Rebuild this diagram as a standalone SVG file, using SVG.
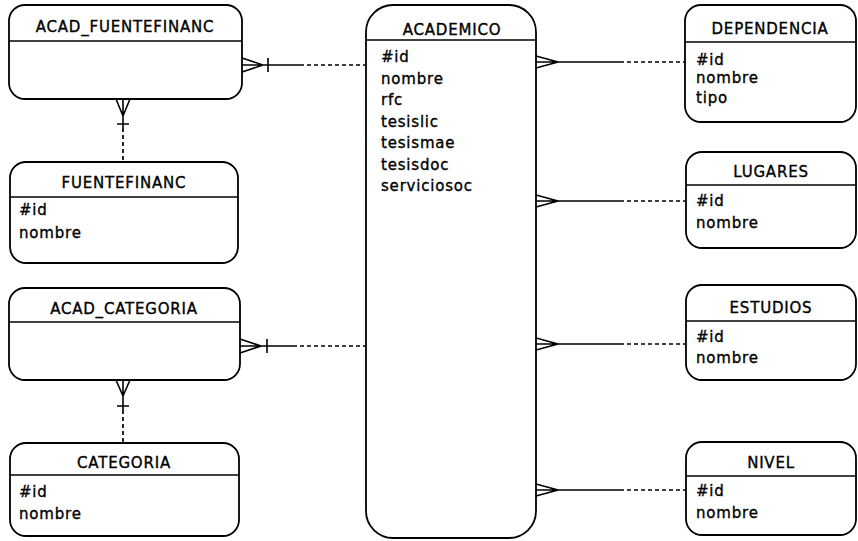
<svg xmlns="http://www.w3.org/2000/svg" width="858" height="541" viewBox="0 0 858 541">
<style>
.box{fill:#fff;stroke:#000;stroke-width:1.8}
.sep{stroke:#000;stroke-width:1.4}
.t{font-family:"DejaVu Sans",Verdana,sans-serif;font-size:15px;letter-spacing:0.8px;fill:#000;stroke:#000;stroke-width:0.35}
.h{text-anchor:middle}
.ln{fill:none;stroke:#000;stroke-width:1.6}
.dash{fill:none;stroke:#000;stroke-width:1.7;stroke-dasharray:4 3}
</style>
<rect width="858" height="541" fill="#fff"/>
<g id="connectors">
  <path class="ln" d="M242 58 L263 65 L242 72 M242 65 L300 65 M268 58 L268 72"/>
  <path class="dash" d="M300 65 L366 65"/>
  <path class="ln" d="M116 99 L123 116 L130 99 M123 99 L123 128 M117 124 L129 124"/>
  <path class="dash" d="M123 128 L123 162"/>
  <path class="ln" d="M240 339 L261 346 L240 353 M240 346 L293 346 M267 339 L267 353"/>
  <path class="dash" d="M293 346 L365 346"/>
  <path class="ln" d="M116 380 L123 396 L130 380 M123 380 L123 410 M117 406 L129 406"/>
  <path class="dash" d="M123 410 L123 443"/>
  <path class="ln" d="M536 56 L558 62 L536 68 M536 62 L620 62"/>
  <path class="dash" d="M620 62 L685 62"/>
  <path class="ln" d="M536 195 L558 201 L536 207 M536 201 L620 201"/>
  <path class="dash" d="M620 201 L686 201"/>
  <path class="ln" d="M536 338 L558 344 L536 350 M536 344 L620 344"/>
  <path class="dash" d="M620 344 L686 344"/>
  <path class="ln" d="M536 484 L558 490 L536 496 M536 490 L620 490"/>
  <path class="dash" d="M620 490 L686 490"/>
</g>
<g id="ACAD_FUENTEFINANC">
  <rect class="box" x="9" y="5" width="233" height="94" rx="16"/>
  <line class="sep" x1="9" y1="41" x2="242" y2="41"/>
  <text class="t h" x="125" y="32">ACAD_FUENTEFINANC</text>
</g>
<g id="FUENTEFINANC">
  <rect class="box" x="10" y="162" width="228" height="101" rx="16"/>
  <line class="sep" x1="10" y1="197" x2="238" y2="197"/>
  <text class="t h" x="124" y="188">FUENTEFINANC</text>
  <text class="t" x="19" y="215">#id</text>
  <text class="t" x="19" y="238">nombre</text>
</g>
<g id="ACAD_CATEGORIA">
  <rect class="box" x="9" y="288" width="231" height="92" rx="16"/>
  <line class="sep" x1="9" y1="322" x2="240" y2="322"/>
  <text class="t h" x="124" y="314">ACAD_CATEGORIA</text>
</g>
<g id="CATEGORIA">
  <rect class="box" x="10" y="443" width="229" height="93" rx="16"/>
  <line class="sep" x1="10" y1="475" x2="239" y2="475"/>
  <text class="t h" x="124" y="468">CATEGORIA</text>
  <text class="t" x="19" y="497">#id</text>
  <text class="t" x="19" y="519">nombre</text>
</g>
<g id="ACADEMICO">
  <rect class="box" x="366" y="5" width="170" height="533" rx="27"/>
  <line class="sep" x1="366" y1="40" x2="536" y2="40"/>
  <text class="t h" x="452" y="35">ACADEMICO</text>
  <text class="t" x="381" y="62">#id</text>
  <text class="t" x="381" y="84">nombre</text>
  <text class="t" x="381" y="105">rfc</text>
  <text class="t" x="381" y="127">tesislic</text>
  <text class="t" x="381" y="148">tesismae</text>
  <text class="t" x="381" y="170">tesisdoc</text>
  <text class="t" x="381" y="191">serviciosoc</text>
</g>
<g id="DEPENDENCIA">
  <rect class="box" x="685" y="5" width="171" height="117" rx="16"/>
  <line class="sep" x1="685" y1="42" x2="856" y2="42"/>
  <text class="t h" x="770" y="34">DEPENDENCIA</text>
  <text class="t" x="696" y="65">#id</text>
  <text class="t" x="696" y="83">nombre</text>
  <text class="t" x="696" y="103">tipo</text>
</g>
<g id="LUGARES">
  <rect class="box" x="686" y="152" width="170" height="96" rx="16"/>
  <line class="sep" x1="686" y1="185" x2="856" y2="185"/>
  <text class="t h" x="771" y="177">LUGARES</text>
  <text class="t" x="696" y="206">#id</text>
  <text class="t" x="696" y="228">nombre</text>
</g>
<g id="ESTUDIOS">
  <rect class="box" x="686" y="285" width="170" height="95" rx="16"/>
  <line class="sep" x1="686" y1="321" x2="856" y2="321"/>
  <text class="t h" x="771" y="313">ESTUDIOS</text>
  <text class="t" x="696" y="342">#id</text>
  <text class="t" x="696" y="363">nombre</text>
</g>
<g id="NIVEL">
  <rect class="box" x="686" y="442" width="170" height="93" rx="16"/>
  <line class="sep" x1="686" y1="476" x2="856" y2="476"/>
  <text class="t h" x="771" y="468">NIVEL</text>
  <text class="t" x="696" y="496">#id</text>
  <text class="t" x="696" y="518">nombre</text>
</g>
</svg>
